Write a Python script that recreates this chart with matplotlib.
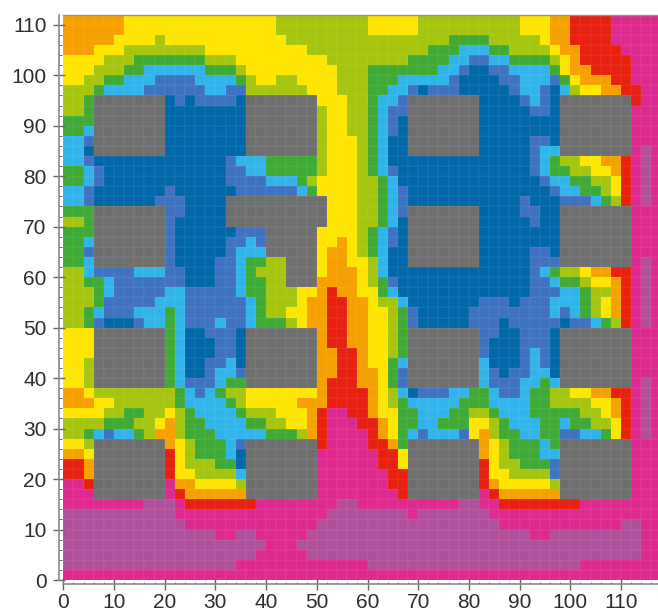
import numpy as np
import matplotlib
matplotlib.use("Agg")
import matplotlib.pyplot as plt
from matplotlib.colors import ListedColormap

# colour classes of the map, grey = building blocks
codes = "PVROYLGCBD#"
colors = ["#DE2A8E", "#B0509C", "#E8200F", "#F7A100", "#FFE600", "#A6C50F",
          "#3FAA35", "#30B4EA", "#3F72C0", "#0068A8", "#6F6F6F"]

# one string per row from the top (y=112), letter + x where that colour ends
rows = [
    "O12 Y42 L60 Y70 L90 Y96 O100 R108 P118",
    "O12 Y42 L60 Y70 L90 Y96 O100 R108 P118",
    "O10 Y18 L20 Y44 L76 G84 L94 Y96 O100 R108 P118",
    "O6 Y12 L28 Y48 L72 G78 C84 G88 L96 Y98 O102 R110 P118",
    "Y8 L14 G28 L34 Y52 L68 G76 C80 B84 C88 G96 L98 Y100 O102 R112 P118",
    "Y6 L12 G16 C28 G34 L36 Y54 L60 G74 C78 B80 D84 B88 C96 G98 Y100 O104 R112 P118",
    "Y4 L8 G12 C18 B26 C34 G36 L38 Y42 L46 Y54 L60 G66 C76 B78 D86 B90 C96 B98 G100 Y102 O108 R112 P118",
    "L6 G8 C16 B28 C32 B36 L48 Y54 L60 G64 C68 B70 D72 B78 D88 B90 C94 B96 D98 C100 L102 Y106 O110 R114 P118",
    "L4 G6 D22 B24 D26 B34 D36 Y56 L60 G62 C66 B68 D90 B92 C94 B96 D98 R114 P118",
    "L4 G6 D36 L52 Y56 L60 G62 C64 B68 D92 B96 D98 P118",
    "G6 D36 L52 Y56 L60 G62 C64 B66 D98 P118",
    "G4 C6 D36 L52 Y56 L60 G62 C64 B66 D98 P118",
    "C4 B6 D36 L52 Y58 L60 G62 C64 D92 B96 D98 P118",
    "C4 D36 L52 Y58 L60 G62 C64 D92 B94 C98 P114 V116 P118",
    "C4 B6 D32 B34 C40 G50 L52 Y58 L60 G62 C64 D92 B94 C96 G98 L102 Y106 O110 R112 P114 V116 P118",
    "G4 C6 B8 D32 B36 C40 G50 L52 Y58 L60 G62 C64 B66 D92 B94 C96 G100 L104 Y108 O110 R112 P114 V116 P118",
    "G4 C6 B8 D32 B40 C46 G48 L50 Y58 L62 G64 C66 D94 B96 C100 G104 L108 Y110 R112 P114 V116 P118",
    "C4 B6 D20 B22 D34 B46 C48 G50 Y58 L62 G64 C66 B68 D96 B98 C102 G106 L108 Y110 R112 P114 V116 P118",
    "C4 B6 D18 B24 D32 Y58 L62 G64 C66 B68 D90 B92 D98 B104 C106 G108 L110 R112 P114 V116 P118",
    "G6 B24 D32 Y58 L62 G64 C66 B68 D90 B94 D98 P118",
    "L4 G6 B22 D32 Y58 L62 G64 C66 D92 B94 D98 P118",
    "G6 B22 D34 B40 Y58 L60 G62 C64 B66 D98 P118",
    "G4 C6 B22 D32 B36 C38 B40 Y54 O56 Y58 L60 G62 C64 B66 D98 P118",
    "G4 B22 D32 B34 C40 Y52 O56 Y58 L60 G62 C64 D92 B96 D98 P118",
    "G4 C6 B22 D30 B34 C36 G40 L44 Y52 O56 Y60 L62 C64 D92 B98 P114 V116 P118",
    "L4 C6 B14 C20 B24 D30 B34 C36 G38 L44 Y52 O58 Y60 L62 C64 D92 B94 C96 G98 L102 Y104 O108 R112 P114 V116 P118",
    "L4 G8 C10 B24 D30 B34 C36 G40 L44 O58 Y60 L62 G64 B66 D92 B96 C98 G102 L104 Y108 O110 R112 P114 V116 P118",
    "L6 G8 C10 B20 C24 B34 C36 G40 L46 Y50 O52 R54 O58 Y62 G64 C66 D92 B98 C102 G104 L108 O110 R112 P114 V116 P118",
    "L6 G8 B18 C24 B36 C38 G40 L46 Y48 O52 R56 O60 Y62 L66 C68 D82 B88 D90 B96 C102 G104 L106 Y108 O110 R112 P114 V116 P118",
    "L4 G6 C8 B14 C20 G22 C24 B36 C38 G40 L44 Y48 O52 R56 O60 Y64 L66 G68 B70 D80 B96 C98 B100 C102 G104 L106 Y108 O110 R112 P114 V116 P118",
    "L4 G6 B8 D14 B16 C20 G22 C24 B30 C32 B36 C38 G44 L46 Y48 O52 R56 O60 Y64 L66 G68 B70 D80 B86 D88 B98 D100 B104 C106 G108 L110 R112 P114 V116 P118",
    "Y6 G22 C24 D28 B34 D36 O52 R56 O60 Y64 L66 G68 B86 D90 B96 D98 P118",
    "Y6 G22 C24 D30 B34 D36 O52 R56 O60 Y64 L66 G68 B84 D90 B96 D98 P118",
    "Y6 G22 C24 D30 B34 D36 O54 R58 O60 Y64 L66 G68 B84 D90 B92 C94 B96 D98 P118",
    "Y4 L6 G22 C24 D28 B32 C34 D36 O54 R58 O60 Y64 G66 C84 D90 B92 C94 B96 D98 P118",
    "Y4 L6 G22 C24 D28 B30 C34 B36 O54 R58 O62 Y64 G66 B68 C84 B86 D88 B92 C96 D98 P118",
    "Y4 L6 G22 C24 B30 C32 G36 O52 R58 O62 Y64 G66 B68 C84 B90 C94 G96 C98 P114 V116 P118",
    "O4 Y6 L22 G24 C26 B28 C30 G32 L36 Y50 O52 R60 O62 Y64 L66 C68 D70 B76 C80 G84 C86 B90 C92 G96 L100 Y104 O108 R112 P114 V116 P118",
    "O6 Y10 L22 G24 C32 G34 L36 Y46 O52 R60 O62 Y64 L66 G68 C78 G84 C92 G96 L104 Y108 O110 R112 P114 V116 P118",
    "Y8 L12 G16 L20 Y22 L24 G26 C34 G36 L42 Y48 O50 R52 P56 R60 O62 Y66 G70 C76 G80 L84 G86 C92 G102 L106 Y108 O110 R112 P114 V116 P118",
    "L8 G14 L18 Y20 O22 L24 G28 C36 G40 L44 Y48 O50 R52 P58 R62 O64 Y66 G70 C74 G80 Y84 L86 G88 C94 G98 C100 G104 L108 Y110 R112 P114 V116 P118",
    "L4 G6 C8 B10 C14 G16 L18 O22 L24 G30 C40 G46 L48 O50 R52 P60 R62 O64 Y66 G68 C70 B72 C78 B80 Y82 O84 L86 G90 C94 G98 B102 C106 G108 Y110 R112 P114 V116 P118",
    "Y4 L6 O22 Y24 L26 G32 C34 B36 R52 P60 R64 O66 G68 O84 Y86 L88 G94 C96 G98 P118",
    "O4 Y6 R22 Y24 L26 G32 C34 D36 P62 R66 Y68 O84 Y86 L88 G94 C98 P118",
    "R4 O6 R22 Y24 L30 G34 D36 P62 R66 Y68 R84 Y86 L90 G96 B98 P118",
    "R4 O6 R22 Y26 L34 C36 P64 R84 Y88 L96 B98 P118",
    "P4 R6 P22 O26 Y34 L36 P64 R84 O86 Y96 L98 P118",
    "P22 R24 O36 P66 R68 P84 R86 O98 P118",
    "P16 V22 P24 R38 P54 V58 P78 V82 P86 R102 P118",
    "V22 P52 V68 P70 V84 P118",
    "V24 P50 V86 P110 V114 P118",
    "V30 P34 V38 P48 V92 P96 V114 P118",
    "V40 P46 V114 P118",
    "V38 P48 V114 P118",
    "V34 P60 V102 P118",
    "P118",
]

# grey blocks: x0, x1, y0, y1
blocks = [
    (6, 20, 84, 96), (36, 50, 84, 96), (68, 82, 84, 96), (98, 112, 84, 96),
    (6, 20, 62, 74), (68, 82, 62, 74), (98, 112, 62, 74),
    (32, 52, 70, 76), (40, 50, 64, 70), (44, 50, 58, 64),
    (6, 20, 38, 50), (36, 50, 38, 50), (68, 82, 38, 50), (98, 112, 38, 50),
    (6, 20, 16, 28), (36, 50, 16, 28), (68, 82, 16, 28), (98, 112, 16, 28),
]

xticks = list(range(0, 120, 10))
yticks = list(range(0, 120, 10))

# expand the rows into a grid, row 0 = y 0..2
ny, nx = len(rows), 59
grid = np.zeros((ny, nx), dtype=int)
for r, row in enumerate(rows):
    start = 0
    for run in row.split():
        end = int(run[1:]) // 2
        grid[ny - 1 - r, start:end] = codes.index(run[0])
        start = end
for x0, x1, y0, y1 in blocks:
    grid[y0 // 2:y1 // 2, x0 // 2:x1 // 2] = codes.index("#")

plt.rcParams["font.family"] = ["Liberation Sans", "DejaVu Sans"]

W, H = 658, 614
fig = plt.figure(figsize=(W / 100, H / 100), dpi=100)
left, right, top, bottom = 63.3, 658, 14.7, 580
ax = fig.add_axes([left / W, 1 - bottom / H, (right - left) / W, (bottom - top) / H])

xe = np.arange(nx + 1) * 2
ye = np.arange(ny + 1) * 2
ax.pcolormesh(xe, ye, grid, cmap=ListedColormap(colors), vmin=-0.5, vmax=len(colors) - 0.5,
              edgecolors=(1, 1, 1, 0.03), linewidth=0.3)
ax.set_xlim(0, (right - left) / 5.07)
ax.set_ylim(0, 112)

ax.spines["right"].set_visible(False)
ax.spines["top"].set_color("#9C9170")
ax.spines["top"].set_linewidth(1.0)
for side in ["left", "bottom"]:
    ax.spines[side].set_position(("outward", 3.0))
    ax.spines[side].set_color("#8A8A8A")
    ax.spines[side].set_linewidth(1.2)

ax.set_xticks(xticks)
ax.set_yticks(yticks)
ax.set_xticks(np.arange(0, 118, 2), minor=True)
ax.set_yticks(np.arange(0, 112, 2), minor=True)
ax.tick_params(axis="both", which="major", length=8, width=1, color="#666666",
               labelsize=15, labelcolor="#2E2E2E", direction="inout")
ax.tick_params(axis="x", which="major", pad=2.5)
ax.tick_params(axis="y", which="major", pad=5)
ax.tick_params(axis="both", which="minor", length=1.8, width=0.7, color="#666666", direction="in")

fig.savefig("out.png", dpi=100)
